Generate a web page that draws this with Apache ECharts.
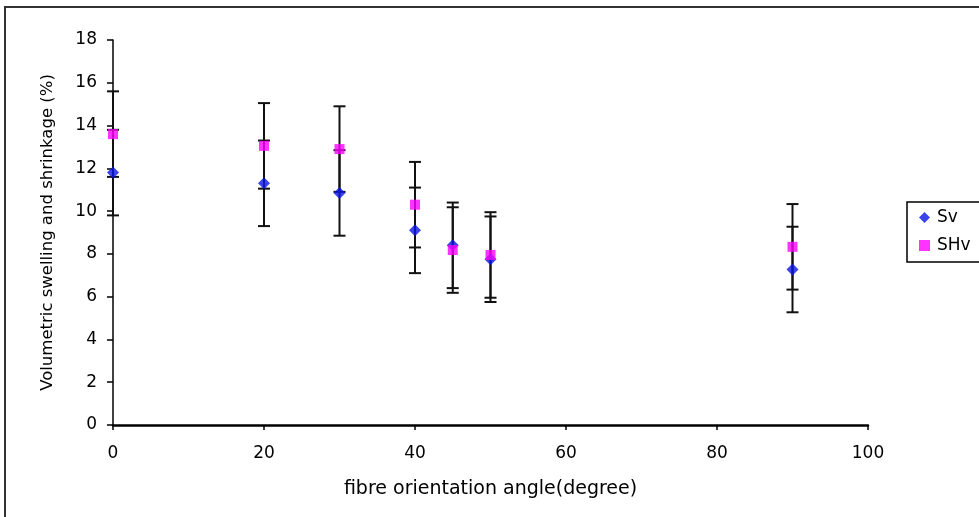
<!DOCTYPE html>
<html>
<head>
<meta charset="utf-8">
<script src="https://cdn.jsdelivr.net/npm/echarts@6/dist/echarts.min.js"></script>
<style>
html,body{margin:0;padding:0;background:#fff;}
#c{width:979px;height:517px;}
</style>
</head>
<body>
<div id="c"></div>
<script>
// Data
var angles = [0, 20, 30, 40, 45, 50, 90];
var svValues = [11.8, 11.3, 10.85, 9.1, 8.4, 7.75, 7.27];
var shvValues = [13.6, 13.05, 12.9, 10.3, 8.18, 7.95, 8.33];
var svErrors = [2, 2, 2, 2, 2, 2, 2];
var shvErrors = [2, 2, 2, 2, 2, 2, 2];
var yTicks = [0, 2, 4, 6, 8, 10, 12, 14, 16, 18];
var xTicks = [0, 20, 40, 60, 80, 100];

function pairs(xs, ys) { return xs.map(function (x, i) { return [x, ys[i]]; }); }
function errData(xs, ys, es) { return xs.map(function (x, i) { return [x, ys[i] - es[i], ys[i] + es[i]]; }); }

function renderErr(params, api) {
  var x = api.value(0);
  var lo = api.coord([x, api.value(1)]);
  var hi = api.coord([x, api.value(2)]);
  var w = 6;
  var st = { stroke: '#111', lineWidth: 2 };
  return {
    type: 'group',
    children: [
      { type: 'line', shape: { x1: lo[0], y1: lo[1], x2: hi[0], y2: hi[1] }, style: st },
      { type: 'line', shape: { x1: lo[0] - w, y1: lo[1], x2: lo[0] + w, y2: lo[1] }, style: st },
      { type: 'line', shape: { x1: hi[0] - w, y1: hi[1], x2: hi[0] + w, y2: hi[1] }, style: st }
    ]
  };
}

var chart = echarts.init(document.getElementById('c'), null, { renderer: 'canvas' });
var font = 'DejaVu Sans, Liberation Sans, Arial, sans-serif';
chart.setOption({
  animation: false,
  backgroundColor: '#fff',
  textStyle: { fontFamily: font },
  graphic: [
    { type: 'rect', shape: { x: 5, y: 7, width: 1000, height: 560 }, style: { fill: 'none', stroke: '#333', lineWidth: 2 }, z: 0 }
  ],
  grid: { left: 113, right: 111, top: 40, bottom: 92, containLabel: false },
  legend: {
    data: [
      { name: 'Sv', icon: 'diamond' },
      { name: 'SHv', icon: 'rect' }
    ],
    orient: 'vertical',
    left: 907,
    top: 202,
    itemWidth: 11,
    itemHeight: 11,
    itemGap: 11,
    padding: [7, 20, 8, 12],
    borderColor: '#000',
    borderWidth: 1.5,
    textStyle: { fontSize: 17, color: '#000', fontFamily: font, padding: [0, 0, 0, 2] }
  },
  xAxis: {
    type: 'value',
    min: 0, max: 100, interval: 20,
    name: 'fibre orientation angle(degree)',
    nameLocation: 'middle',
    nameGap: 55,
    nameTextStyle: { fontSize: 19, color: '#000', fontFamily: font },
    axisLine: { show: true, onZero: false, lineStyle: { color: '#000', width: 2.5 } },
    axisTick: { show: true, inside: false, length: 5, lineStyle: { color: '#000', width: 1.5 } },
    axisLabel: { fontSize: 17, color: '#000', margin: 20, fontFamily: font,
      formatter: function (v) { return xTicks.indexOf(v) >= 0 ? String(v) : ''; } },
    splitLine: { show: false }
  },
  yAxis: {
    type: 'value',
    min: 0, max: 18, interval: 2,
    name: 'Volumetric swelling and shrinkage (%)',
    nameLocation: 'middle',
    nameGap: 57,
    nameRotate: 90,
    nameTextStyle: { fontSize: 16.5, color: '#000', fontFamily: font },
    axisLine: { show: true, lineStyle: { color: '#000', width: 1.5 } },
    axisTick: { show: true, inside: false, length: 6, lineStyle: { color: '#000', width: 1.5 } },
    axisLabel: { fontSize: 17, color: '#000', margin: 16, fontFamily: font,
      formatter: function (v) { return yTicks.indexOf(v) >= 0 ? String(v) : ''; } },
    splitLine: { show: false }
  },
  series: [
    { name: 'Sv err', type: 'custom', renderItem: renderErr, data: errData(angles, svValues, svErrors), z: 2, silent: true, clip: false },
    { name: 'SHv err', type: 'custom', renderItem: renderErr, data: errData(angles, shvValues, shvErrors), z: 2, silent: true, clip: false },
    { name: 'Sv', type: 'scatter', symbol: 'diamond', symbolSize: [12, 12], itemStyle: { color: '#0a14e6' }, data: pairs(angles, svValues), z: 3 },
    { name: 'SHv', type: 'scatter', symbol: 'rect', symbolSize: [10, 10], itemStyle: { color: '#ff00ff' }, data: pairs(angles, shvValues), z: 4 }
  ]
});
</script>
</body>
</html>
